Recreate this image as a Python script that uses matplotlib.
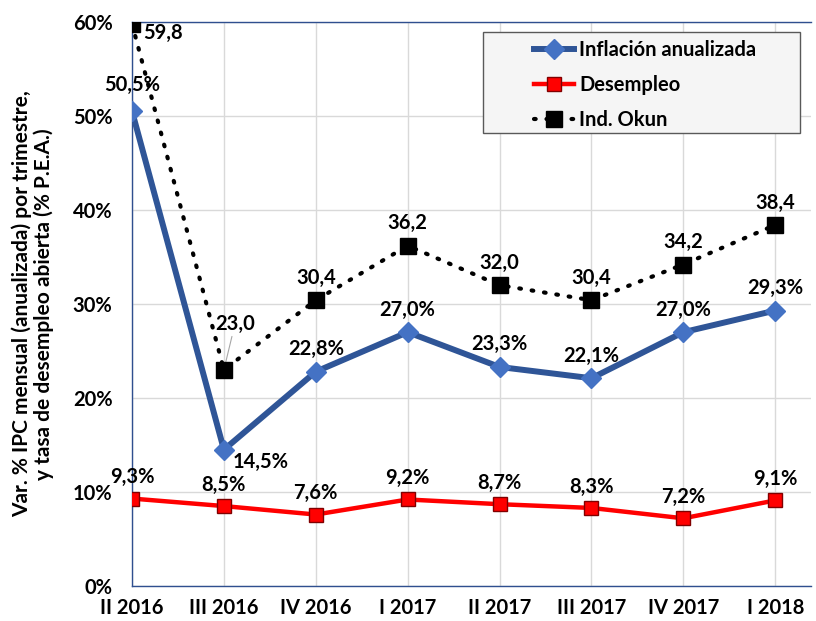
import matplotlib.pyplot as plt
import matplotlib.patches as mpatches
import numpy as np

# Data
quarters = ['II 2016', 'III 2016', 'IV 2016', 'I 2017', 'II 2017', 'III 2017', 'IV 2017', 'I 2018']
inflacion = [50.5, 14.5, 22.8, 27.0, 23.3, 22.1, 27.0, 29.3]
desempleo = [9.3, 8.5, 7.6, 9.2, 8.7, 8.3, 7.2, 9.1]
okun = [59.8, 23.0, 30.4, 36.2, 32.0, 30.4, 34.2, 38.4]

plt.rcParams['font.family'] = ['Lato', 'DejaVu Sans']
plt.rcParams['font.weight'] = 'bold'

fig = plt.figure(figsize=(8.16, 6.21), dpi=100)
ax = fig.add_axes([0.1618, 0.0564, 0.8321, 0.9082])

x = np.arange(len(quarters))

ax.plot(x, inflacion, color='#2F5597', lw=4.3, marker='D', markersize=10,
        markerfacecolor='#4472C4', markeredgecolor='#4472C4',
        label='Inflación anualizada', zorder=4)
ax.plot(x, desempleo, color='#FF0000', lw=3.2, marker='s', markersize=10,
        markerfacecolor='#FF0000', markeredgecolor='#800000', markeredgewidth=1,
        label='Desempleo', zorder=4)
ax.plot(x, okun, color='black', lw=3, linestyle=(0, (0.4, 2.6)), dash_capstyle='round',
        marker='s', markersize=11, markerfacecolor='black', markeredgecolor='black',
        label='Ind. Okun', zorder=5)

fs = 14.5
fmt = lambda v: f'{v:.1f}'.replace('.', ',')

# inflation labels
for i, v in enumerate(inflacion):
    if i == 0:
        ax.annotate(fmt(v) + '%', (i, v), xytext=(0, 12), textcoords='offset points',
                    ha='center', va='bottom', fontsize=fs, fontweight='bold')
    elif i == 1:
        ax.annotate(fmt(v) + '%', (i, v), xytext=(6, -2), textcoords='offset points',
                    ha='left', va='top', fontsize=fs, fontweight='bold')
    else:
        ax.annotate(fmt(v) + '%', (i, v), xytext=(0, 9), textcoords='offset points',
                    ha='center', va='bottom', fontsize=fs, fontweight='bold')

# unemployment labels
for i, v in enumerate(desempleo):
    ax.annotate(fmt(v) + '%', (i, v), xytext=(0, 8), textcoords='offset points',
                ha='center', va='bottom', fontsize=fs, fontweight='bold')

# okun labels
for i, v in enumerate(okun):
    if i == 0:
        ax.annotate(fmt(v), (i, v), xytext=(8, 1), textcoords='offset points',
                    ha='left', va='top', fontsize=fs, fontweight='bold', zorder=6)
    elif i == 1:
        ax.annotate(fmt(v), (i, v), xytext=(8, 26), textcoords='offset points',
                    ha='center', va='bottom', fontsize=fs, fontweight='bold',
                    arrowprops=dict(arrowstyle='-', color='#A6A6A6', lw=0.8,
                                    shrinkA=0, shrinkB=0))
    else:
        ax.annotate(fmt(v), (i, v), xytext=(0, 9), textcoords='offset points',
                    ha='center', va='bottom', fontsize=fs, fontweight='bold')

ax.set_xlim(0, 7.39)
ax.set_ylim(0, 60)
ax.set_xticks(x)
ax.set_xticklabels(quarters, fontsize=fs, fontweight='bold')
ax.set_yticks(np.arange(0, 61, 10))
ax.set_yticklabels([f'{t}%' for t in range(0, 61, 10)], fontsize=fs, fontweight='bold')
ax.tick_params(axis='y', length=0, pad=14)
ax.tick_params(axis='x', length=0, pad=9)

ax.grid(True, color='#D9D9D9', lw=1)
ax.set_axisbelow(True)
for s in ['left', 'top', 'bottom']:
    ax.spines[s].set_color('#2F4F8F')
    ax.spines[s].set_linewidth(1)
ax.spines['right'].set_visible(False)

ax.set_ylabel('Var. % IPC mensual (anualizada) por trimestre,\ny tasa de desempleo abierta (% P.E.A.)',
              fontsize=15, fontweight='bold', linespacing=1.05)
ax.yaxis.set_label_coords(-0.115, 0.5)

# legend box drawn separately (wide frame around centred entries)
box = mpatches.Rectangle((0.517, 0.803), 0.467, 0.179, transform=ax.transAxes,
                         facecolor='#F5F5F5', edgecolor='#595959', lw=1, zorder=7)
ax.add_patch(box)
leg = ax.legend(loc='upper left', bbox_to_anchor=(0.592, 0.968), fontsize=fs,
                frameon=False, borderpad=0, handlelength=2.0, labelspacing=0.75,
                handletextpad=0.25, borderaxespad=0)
leg.set_zorder(8)
for t in leg.get_texts():
    t.set_fontweight('bold')

fig.savefig('out.png', dpi=100, facecolor='white')
